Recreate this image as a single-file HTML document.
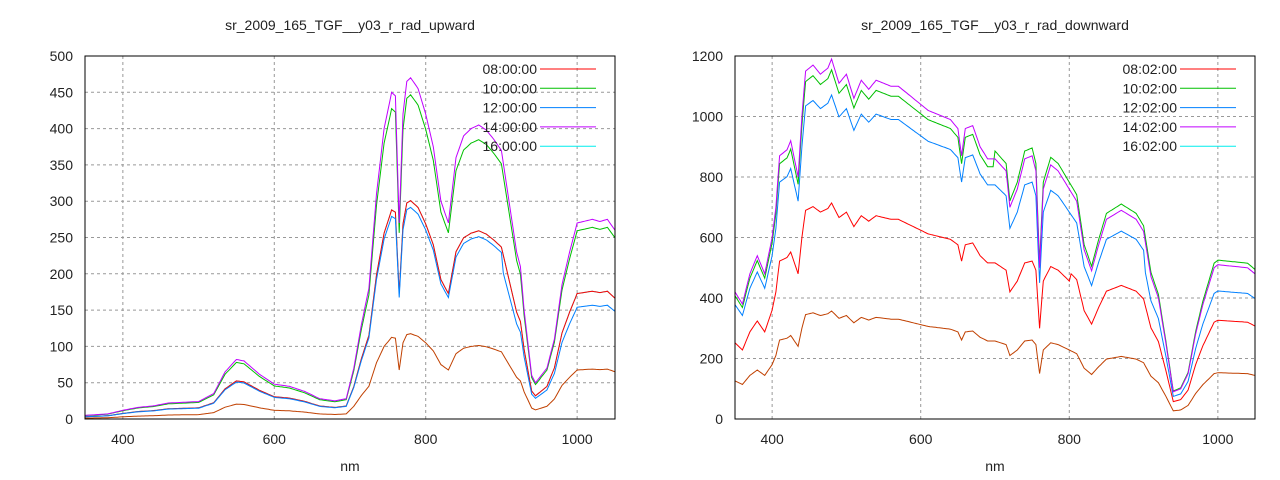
<!DOCTYPE html>
<html><head><meta charset="utf-8"><style>
body{margin:0;background:#fff;width:1280px;height:480px;overflow:hidden}
svg{display:block}
text{font-family:"Liberation Sans",sans-serif;font-size:14px;fill:#222}
</style></head><body>
<svg id="s" width="1280" height="480" xmlns="http://www.w3.org/2000/svg"></svg>
<script>
const S=document.getElementById('s');let h='';
const L=[[350,5],[380,7],[400,12],[420,16],[440,18],[460,22],[480,23],[500,24],[520,35],[535,65],[550,82],[560,80],[580,62],[600,48],[620,45],[640,38],[660,28],[680,25],[695,28],[705,70],[715,130],[725,180],[735,310],[745,400],[755,450],[760,445],[765,270],[770,420],[775,465],[780,470],[790,455],[800,420],[810,375],[820,300],[830,270],[840,360],[850,390],[860,400],[870,405],[880,398],[890,385],[900,370],[910,300],[920,230],[925,210],[930,150],[940,60],[945,50],[960,70],[970,110],[980,185],[990,230],[1000,270],[1020,275],[1030,272],[1040,275],[1050,260]];
const R=[[350,420],[360,380],[370,480],[380,540],[390,480],[400,600],[405,700],[410,870],[420,890],[425,920],[430,860],[435,800],[440,1000],[445,1150],[455,1170],[465,1140],[475,1160],[480,1190],[490,1110],[500,1140],[510,1060],[520,1120],[530,1090],[540,1120],[550,1110],[560,1100],[570,1100],[580,1080],[590,1060],[600,1040],[610,1020],[620,1010],[640,990],[650,960],[655,870],[660,960],[670,970],[680,900],[690,860],[700,860],[715,820],[720,700],[730,760],[740,860],[750,870],[755,820],[760,500],[765,760],[775,840],[785,820],[800,760],[810,720],[820,560],[830,490],[840,580],[850,660],[870,690],[890,660],[900,620],[910,470],[920,400],[930,250],[940,90],[950,100],[960,150],[970,280],[980,380],[995,500],[1000,510],[1020,505],[1040,500],[1050,480]];
function lerp(a,b,t){return a+(b-a)*t}
function chart(x0,x1,y0,y1,ymax,ystep,data,series,title,legend){
  const X=n=>x0+(n-350)/700*(x1-x0), Y=v=>y1-v/ymax*(y1-y0);
  h+=`<text x="${(x0+x1)/2}" y="30" text-anchor="middle">${title}</text>`;
  for(let n=400;n<=1000;n+=200){h+=`<line x1="${X(n)}" y1="${y0}" x2="${X(n)}" y2="${y1}" stroke="#999" stroke-dasharray="3,3"/><text x="${X(n)}" y="444" text-anchor="middle">${n}</text>`;}
  for(let v=0;v<=ymax;v+=ystep){const y=Y(v);if(v>0&&v<ymax)h+=`<line x1="${x0}" y1="${y}" x2="${x1}" y2="${y}" stroke="#999" stroke-dasharray="3,3"/>`;h+=`<text x="${x0-12}" y="${y+5}" text-anchor="end">${v}</text>`;}
  h+=`<text x="${(x0+x1)/2}" y="471" text-anchor="middle">nm</text>`;
  series.forEach(([col,f])=>{let p=[];for(let i=0;i<data.length-1;i++){const [a,va]=data[i],[b,vb]=data[i+1];for(let n=a;n<b;n+=2.5){const v=lerp(va,vb,(n-a)/(b-a));p.push(X(n).toFixed(1)+','+Y(f(v,n)).toFixed(1));}}
    const l=data[data.length-1];p.push(X(l[0])+','+Y(f(l[1],l[0])));
    h+=`<polyline fill="none" stroke="${col}" stroke-width="1" points="${p.join(' ')}"/>`;});
  legend.forEach((t,i)=>{const y=69+i*19.3;h+=`<text x="${x1-78}" y="${y+5}" text-anchor="end">${t[0]}</text><line x1="${x1-75}" y1="${y}" x2="${x1-19}" y2="${y}" stroke="${t[1]}"/>`;});
  h+=`<rect x="${x0}" y="${y0}" width="${x1-x0}" height="${y1-y0}" fill="none" stroke="#000"/>`;
}
const cols=['#ff0000','#00c000','#0080ff','#c000ff','#00eeee'];
chart(85,615,56,419,500,50,L,[
 ['#c04000',v=>v*0.25],
 ['#00eeee',v=>v*0.64],
 ['#ff0000',v=>v*0.64],
 ['#0080ff',(v,n)=>v*(n>900?0.57:0.62)],
 ['#00c000',(v,n)=>v*(n>950?0.96:0.95)],
 ['#c000ff',v=>v]],
 'sr_2009_165_TGF__y03_r_rad_upward',
 ['08:00:00','10:00:00','12:00:00','14:00:00','16:00:00'].map((t,i)=>[t,cols[i]]));
chart(735,1255,56,419,1200,200,R,[
 ['#c04000',v=>v*0.3],
 ['#ff0000',(v,n)=>v*(n>800?0.64:0.6)],
 ['#0080ff',(v,n)=>v*(n>900?0.83:0.9)],
 ['#00c000',(v,n)=>v*(n<700?0.97:1.03)],
 ['#c000ff',v=>v]],
 'sr_2009_165_TGF__y03_r_rad_downward',
 ['08:02:00','10:02:00','12:02:00','14:02:00','16:02:00'].map((t,i)=>[t,cols[i]]));
S.innerHTML=h;
</script>
</body></html>
